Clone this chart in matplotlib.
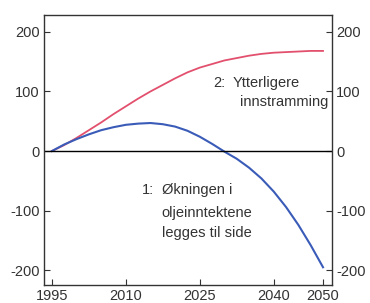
import matplotlib
matplotlib.use("Agg")
import matplotlib.pyplot as plt
import numpy as np

plt.rcParams['font.family'] = ['Liberation Sans', 'DejaVu Sans']
plt.rcParams['axes.unicode_minus'] = False

years = [1995, 1997.5, 2000, 2002.5, 2005, 2007.5, 2010, 2012.5, 2015, 2017.5, 2020, 2022.5,
         2025, 2027.5, 2030, 2032.5, 2035, 2037.5, 2040, 2042.5, 2045, 2047.5, 2050]
tightening = [0, 10, 22, 35, 48, 62, 75, 88, 100, 111, 122, 132,
              140, 146, 152, 156, 160, 163, 165, 166, 167, 168, 168]
set_aside = [0, 11, 20, 28, 35, 40, 44, 46, 47, 45, 41, 34,
             24, 12, -1, -13, -28, -46, -68, -94, -124, -158, -195]

xticks = [1995, 2010, 2025, 2040, 2050]
yticks = [-200, -100, 0, 100, 200]

fig = plt.figure(figsize=(3.7, 3.03), dpi=100)
ax = fig.add_axes([0.119, 0.059, 0.778, 0.891])

ax.plot(years, tightening, color='#e2506e', lw=1.3)
ax.plot(years, set_aside, color='#3a5cb8', lw=1.5)
ax.axhline(0, color='black', lw=1.0)

ax.set_xlim(1993.4, 2051.8)
ax.set_ylim(-225, 228)
ax.set_xticks(xticks)
ax.set_yticks(yticks)
ax.tick_params(direction='in', length=4, labelsize=10.5, colors='#333333',
               right=True, labelright=True, top=False, pad=3)
for s in ax.spines.values():
    s.set_color('#333333')
    s.set_linewidth(1.0)

fs = 10.5
tc = '#333333'
ax.text(2027.7, 114, "2:", ha='left', va='center', fontsize=fs, color=tc)
ax.text(2031.7, 114, "Ytterligere", ha='left', va='center', fontsize=fs, color=tc)
ax.text(2051.0, 82, "innstramming", ha='right', va='center', fontsize=fs, color=tc)

ax.text(2013.3, -66, "1:", ha='left', va='center', fontsize=fs, color=tc)
ax.text(2017.3, -66, "Økningen i", ha='left', va='center', fontsize=fs, color=tc)
ax.text(2017.3, -104, "oljeinntektene", ha='left', va='center', fontsize=fs, color=tc)
ax.text(2017.3, -138, "legges til side", ha='left', va='center', fontsize=fs, color=tc)

fig.savefig("out.png", dpi=100)
